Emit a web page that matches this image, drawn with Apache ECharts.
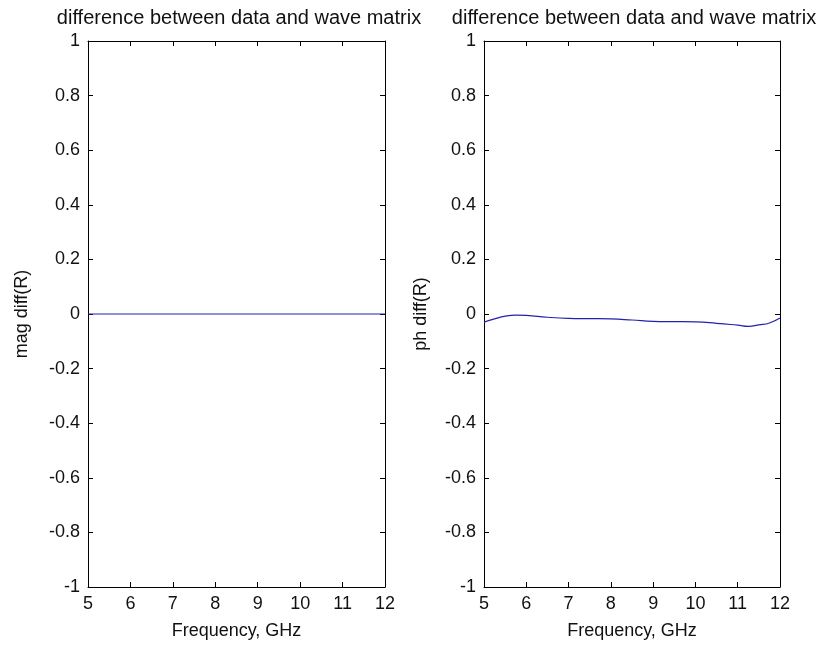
<!DOCTYPE html>
<html>
<head>
<meta charset="utf-8">
<script src="https://cdn.jsdelivr.net/npm/echarts@6/dist/echarts.min.js"></script>
<style>
  html, body { margin: 0; padding: 0; background: #fff; }
  #chart { width: 819px; height: 647px; }
</style>
</head>
<body>
<div id="chart"></div>
<script>
// 数据
const freq = [5, 5.25, 5.5, 5.75, 6, 6.5, 7, 7.5, 8, 8.5, 9, 9.5, 10, 10.5, 11, 11.25, 11.5, 11.75, 12];
const magDiff = [0, 0, 0, 0, 0, 0, 0, 0, 0, 0, 0, 0, 0, 0, 0, 0, 0, 0, 0];
const phDiff = [-0.03, -0.018, -0.008, -0.004, -0.005, -0.012, -0.016, -0.017, -0.018, -0.022, -0.027, -0.028, -0.029, -0.034, -0.041, -0.045, -0.04, -0.033, -0.015];
const xTicks = [5, 6, 7, 8, 9, 10, 11, 12];
const yTicks = [-1, -0.8, -0.6, -0.4, -0.2, 0, 0.2, 0.4, 0.6, 0.8, 1];
const titleText = 'difference between data and wave matrix';
const xName = 'Frequency, GHz';
const yNames = ['mag diff(R)', 'ph diff(R)'];

const font = "'Liberation Sans', Arial, sans-serif";
const lineColor = '#2222b0';
const textColor = '#111';

// 坐标轴公共样式
function baseAxis() {
    return {
        axisLine: { show: true, onZero: false, lineStyle: { color: '#000', width: 1 } },
        axisTick: { show: true, inside: true, length: 5, lineStyle: { color: '#000' } },
        splitLine: { show: false },
        axisLabel: { color: textColor, fontSize: 18, fontFamily: font }
    };
}

function xAxes(gridIndex) {
    const bottom = Object.assign(baseAxis(), {
        type: 'value', gridIndex: gridIndex, position: 'bottom',
        min: xTicks[0], max: xTicks[xTicks.length - 1], interval: 1,
        name: xName, nameLocation: 'middle', nameGap: 35,
        nameTextStyle: { color: textColor, fontSize: 18, fontFamily: font }
    });
    bottom.axisLabel.margin = 8;
    const top = Object.assign(baseAxis(), {
        type: 'value', gridIndex: gridIndex, position: 'top',
        min: xTicks[0], max: xTicks[xTicks.length - 1], interval: 1
    });
    top.axisLabel = { show: false };
    return [bottom, top];
}

function yAxes(gridIndex, name, gap) {
    const left = Object.assign(baseAxis(), {
        type: 'value', gridIndex: gridIndex, position: 'left',
        min: yTicks[0], max: yTicks[yTicks.length - 1], interval: 0.2,
        name: name, nameLocation: 'middle', nameGap: gap, nameRotate: 90,
        nameTextStyle: { color: textColor, fontSize: 18, fontFamily: font }
    });
    left.axisLabel.margin = 8;
    left.axisLabel.formatter = v => String(parseFloat(v.toFixed(1)));
    const right = Object.assign(baseAxis(), {
        type: 'value', gridIndex: gridIndex, position: 'right',
        min: yTicks[0], max: yTicks[yTicks.length - 1], interval: 0.2
    });
    right.axisLabel = { show: false };
    return [left, right];
}

const chart = echarts.init(document.getElementById('chart'));

const option = {
    backgroundColor: '#fff',
    animation: false,
    title: [
        { text: titleText, left: 234, top: 3, textAlign: 'center',
          textStyle: { fontSize: 20, fontWeight: 'normal', color: textColor, fontFamily: font } },
        { text: titleText, left: 629, top: 3, textAlign: 'center',
          textStyle: { fontSize: 20, fontWeight: 'normal', color: textColor, fontFamily: font } }
    ],
    grid: [
        { left: 88, top: 41, width: 297, height: 546 },
        { left: 484, top: 41, width: 296, height: 546 }
    ],
    xAxis: [].concat(xAxes(0), xAxes(1)),
    yAxis: [].concat(yAxes(0, yNames[0], 57), yAxes(1, yNames[1], 54)),
    series: [
        {
            type: 'line', xAxisIndex: 0, yAxisIndex: 0,
            data: freq.map((f, i) => [f, magDiff[i]]),
            showSymbol: false, lineStyle: { color: lineColor, width: 1.2 }
        },
        {
            type: 'line', xAxisIndex: 2, yAxisIndex: 2, smooth: true,
            data: freq.map((f, i) => [f, phDiff[i]]),
            showSymbol: false, lineStyle: { color: lineColor, width: 1.2 }
        }
    ]
};

chart.setOption(option);
</script>
</body>
</html>
